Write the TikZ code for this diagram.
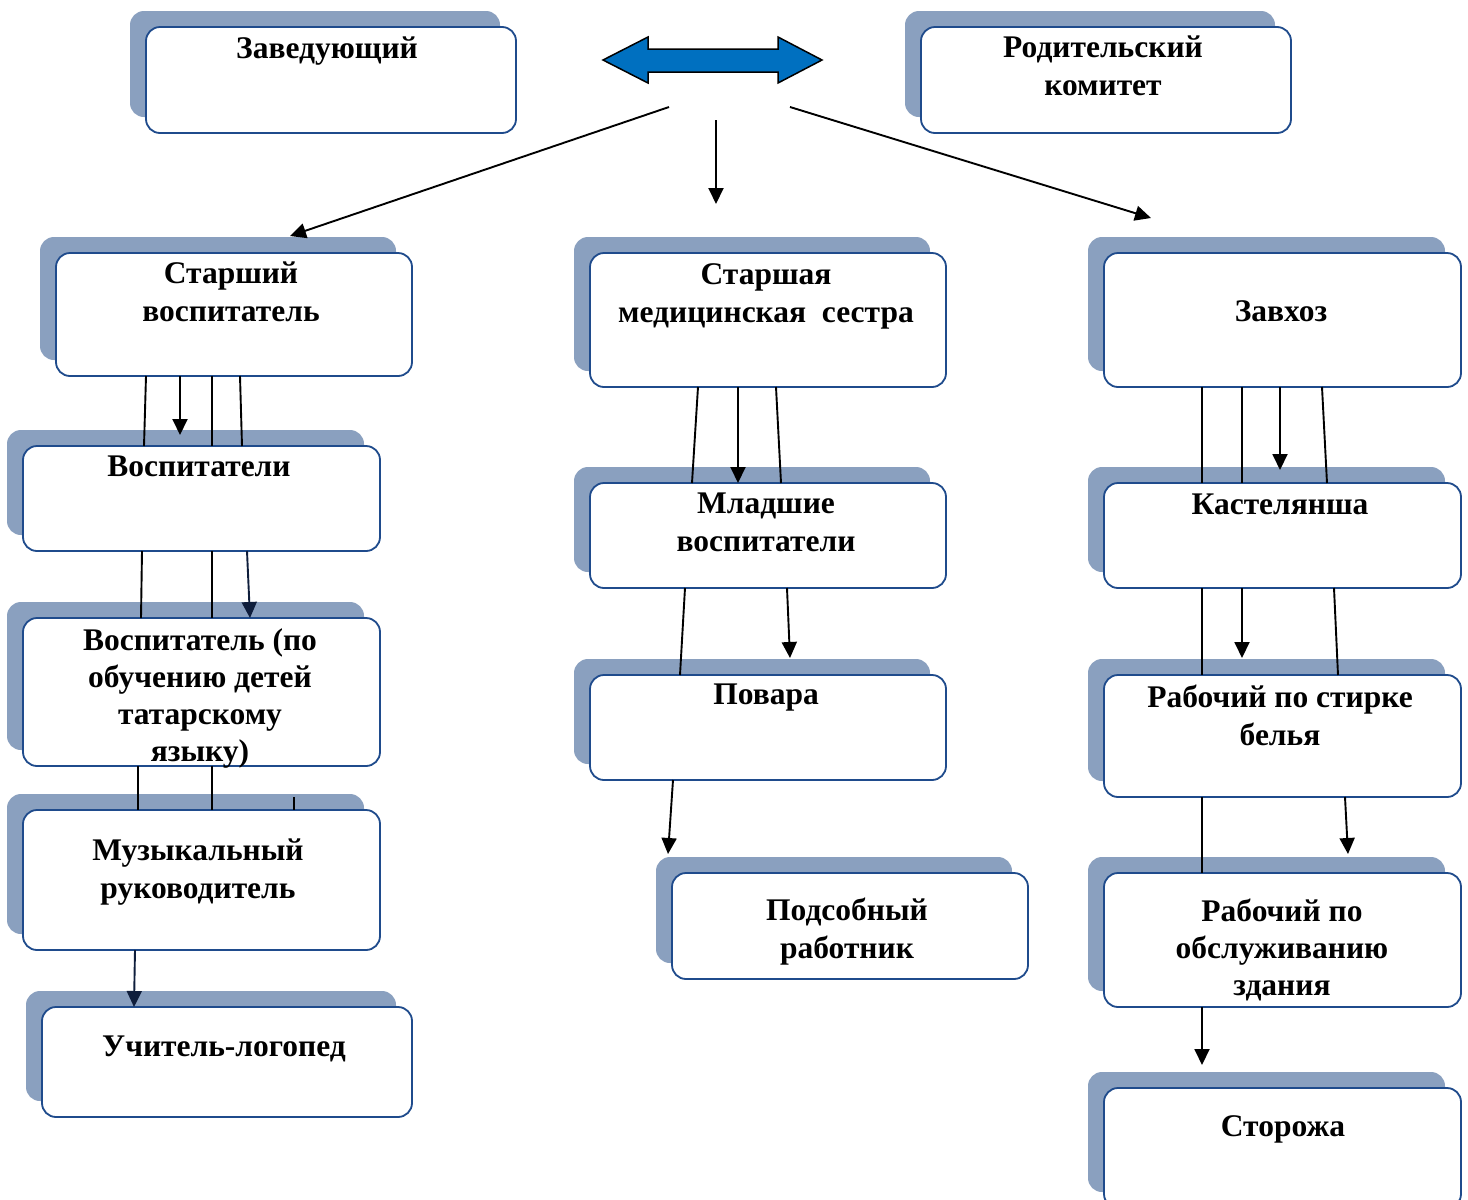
\documentclass[tikz,border=0pt]{standalone}
\usepackage{fontspec}
\setmainfont{Liberation Serif}
\usetikzlibrary{arrows.meta,shadows}
\definecolor{bordc}{RGB}{31,75,140}
\definecolor{shadc}{RGB}{138,160,191}
\definecolor{arrblue}{RGB}{0,112,192}
\definecolor{navy}{RGB}{15,30,60}
\tikzset{
  orgbox/.style={draw=bordc, line width=1.8pt, fill=white, rounded corners=14pt,
    inner sep=0pt, outer sep=0pt,
    general shadow={shadow xshift=-16pt, shadow yshift=16pt, fill=shadc}},
  lbl/.style={font=\fontsize{31.5}{38}\selectfont\bfseries, align=center, inner sep=0pt},
  lbltight/.style={lbl, font=\fontsize{31.5}{37}\selectfont\bfseries},
  conn/.style={line width=1.9pt, black},
  arr/.style={conn, -{Triangle[length=16pt,width=15pt]}},
  narr/.style={arr, draw=navy, fill=navy}
}
\begin{document}
\begin{tikzpicture}[x=1pt,y=-1pt]
\useasboundingbox[fill=white] (0,0) rectangle (1468,1200);
% boxes
\node[orgbox, minimum width=370pt, minimum height=106pt] (zav) at (331,80) {};
\node[orgbox, minimum width=370pt, minimum height=106pt] (rod) at (1106,80) {};
\node[orgbox, minimum width=356pt, minimum height=123pt] (sv) at (234,314.5) {};
\node[orgbox, minimum width=356pt, minimum height=134pt] (med) at (768,320) {};
\node[orgbox, minimum width=357pt, minimum height=134pt] (zavh) at (1282.5,320) {};
\node[orgbox, minimum width=357pt, minimum height=105pt] (vos) at (201.5,498.5) {};
\node[orgbox, minimum width=357pt, minimum height=148pt] (tat) at (201.5,692) {};
\node[orgbox, minimum width=357pt, minimum height=140pt] (muz) at (201.5,880) {};
\node[orgbox, minimum width=370pt, minimum height=110pt] (logo) at (227,1062) {};
\node[orgbox, minimum width=356pt, minimum height=105pt] (mlad) at (768,535.5) {};
\node[orgbox, minimum width=356pt, minimum height=105pt] (pov) at (768,727.5) {};
\node[orgbox, minimum width=356pt, minimum height=106pt] (pods) at (850,926) {};
\node[orgbox, minimum width=357pt, minimum height=105pt] (kast) at (1282.5,535.5) {};
\node[orgbox, minimum width=357pt, minimum height=122pt] (stir) at (1282.5,736) {};
\node[orgbox, minimum width=357pt, minimum height=134pt] (obsl) at (1282.5,940) {};
\node[orgbox, minimum width=357pt, minimum height=120pt] (stor) at (1282.5,1148) {};
% labels
\node[lbl] (zavT) at (327,51) {Заведующий};
\node[lbl] (rodT) at (1103,66) {Родительский\\комитет};
\node[lbl] (svT) at (231,292) {Старший\\воспитатель};
\node[lbl] (medT) at (766,296) {Старшая\\медицинская\ \ сестра};
\node[lbl] (zavhT) at (1281,311) {Завхоз};
\node[lbl] (vosT) at (199,466) {Воспитатели};
\node[lbltight] (tatT) at (200,698.5) {Воспитатель (по\\обучению детей\\татарскому\\языку)};
\node[lbl] (muzT) at (198,872) {Музыкальный\\руководитель};
\node[lbl] (logoT) at (224,1049) {Учитель-логопед};
\node[lbl] (mladT) at (766,522) {Младшие\\воспитатели};
\node[lbl] (povT) at (766,698) {Повара};
\node[lbl] (podsT) at (847,932) {Подсобный\\работник};
\node[lbl] (kastT) at (1280,504) {Кастелянша};
\node[lbl] (stirT) at (1280,715) {Рабочий по стирке\\белья};
\node[lbltight] (obslT) at (1282,950) {Рабочий по\\обслуживанию\\здания};
\node[lbl] (storT) at (1283,1129) {Сторожа};
% double arrow
\draw[fill=arrblue, draw=black, line width=1.5pt, line join=miter]
  (603,60) -- (648,37) -- (648,49) -- (778,49) -- (778,37) -- (822,60)
  -- (778,83) -- (778,72) -- (648,72) -- (648,83) -- cycle;
\coordinate (tL) at (669,107);
\coordinate (tC) at (716,120);
\coordinate (tR) at (790,107);
\coordinate (hL) at (290,236);
\coordinate (hC) at (716,204);
\coordinate (hR) at (1151,218);
\draw[arr] (tL) -- (hL);
\draw[arr] (tC) -- (hC);
\draw[arr] (tR) -- (hR);
% left column
\coordinate (a1) at (180,435);
\draw[conn] (146,0 |- sv.south) -- (144,0 |- vos.north);
\draw[arr] (180,0 |- sv.south) -- (a1);
\draw[conn] (212,0 |- sv.south) -- (212,0 |- vos.north);
\draw[conn] (240,0 |- sv.south) -- (242,0 |- vos.north);
\draw[conn] (142,0 |- vos.south) -- (141,0 |- tat.north);
\draw[conn] (212,0 |- vos.south) -- (212,0 |- tat.north);
\draw[narr] (247,0 |- vos.south) -- (250,0 |- tat.north);
\coordinate (s1) at (294,797);
\draw[conn] (138,0 |- tat.south) -- (138,0 |- muz.north);
\draw[conn] (212,0 |- tat.south) -- (212,0 |- muz.north);
\draw[conn] (s1) -- (294,0 |- muz.north);
\draw[narr] (135,0 |- muz.south) -- (134,0 |- logo.north);
% middle column
\draw[conn] (698,0 |- med.south) -- (692,0 |- mlad.north);
\draw[arr] (738,0 |- med.south) -- (738,0 |- mlad.north);
\draw[conn] (776,0 |- med.south) -- (781,0 |- mlad.north);
\coordinate (a2) at (790,658);
\draw[conn] (685,0 |- mlad.south) -- (680,0 |- pov.north);
\draw[arr] (787,0 |- mlad.south) -- (a2);
\coordinate (a3) at (668,854);
\draw[arr] (673,0 |- pov.south) -- (a3);
% right column
\coordinate (a4) at (1280,470);
\draw[conn] (1202,0 |- zavh.south) -- (1202,0 |- kast.north);
\draw[conn] (1242,0 |- zavh.south) -- (1242,0 |- kast.north);
\draw[arr] (1280,0 |- zavh.south) -- (a4);
\draw[conn] (1322,0 |- zavh.south) -- (1327,0 |- kast.north);
\coordinate (a5) at (1242,658);
\draw[conn] (1202,0 |- kast.south) -- (1202,0 |- stir.north);
\draw[arr] (1242,0 |- kast.south) -- (a5);
\draw[conn] (1334,0 |- kast.south) -- (1338,0 |- stir.north);
\coordinate (a6) at (1348,854);
\draw[conn] (1202,0 |- stir.south) -- (1202,0 |- obsl.north);
\draw[arr] (1345,0 |- stir.south) -- (a6);
\coordinate (a7) at (1202,1065);
\draw[arr] (1202,0 |- obsl.south) -- (a7);
\end{tikzpicture}
\end{document}
